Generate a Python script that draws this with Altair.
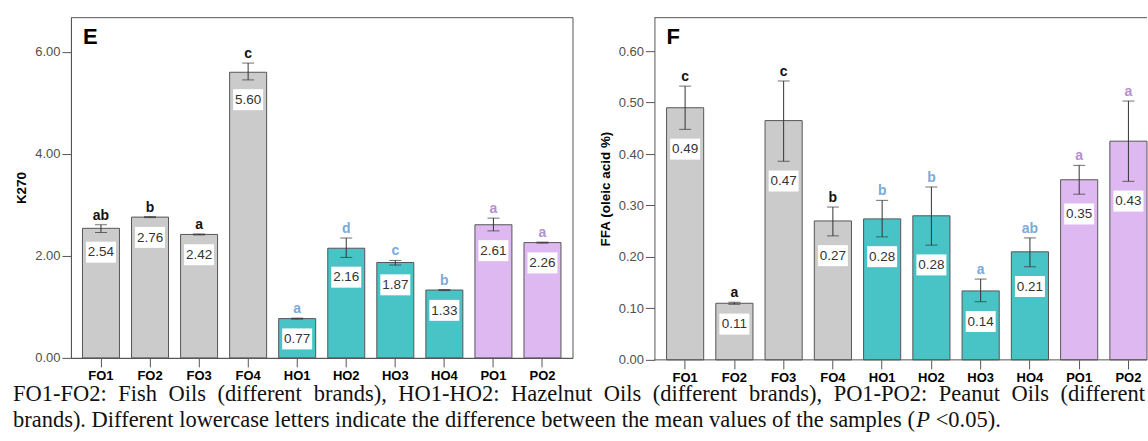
import altair as alt
import pandas as pd

samples = ["FO1", "FO2", "FO3", "FO4", "HO1", "HO2", "HO3", "HO4", "PO1", "PO2"]
groups = ["Fish", "Fish", "Fish", "Fish", "Hazelnut", "Hazelnut", "Hazelnut", "Hazelnut", "Peanut", "Peanut"]

k270_mean = [2.54, 2.76, 2.42, 5.60, 0.77, 2.15, 1.87, 1.33, 2.61, 2.26]
k270_low = [2.46, 2.75, 2.41, 5.45, 0.76, 1.97, 1.82, 1.32, 2.49, 2.25]
k270_high = [2.61, 2.77, 2.43, 5.78, 0.78, 2.35, 1.91, 1.34, 2.74, 2.27]
k270_letters = ["ab", "b", "a", "c", "a", "d", "c", "b", "a", "a"]
k270_labels = ["2.54", "2.76", "2.42", "5.60", "0.77", "2.16", "1.87", "1.33", "2.61", "2.26"]

ffa_mean = [0.49, 0.11, 0.465, 0.27, 0.274, 0.28, 0.134, 0.21, 0.35, 0.425]
ffa_low = [0.448, 0.108, 0.386, 0.241, 0.239, 0.223, 0.113, 0.181, 0.322, 0.347]
ffa_high = [0.532, 0.112, 0.542, 0.297, 0.310, 0.336, 0.157, 0.237, 0.378, 0.503]
ffa_letters = ["c", "a", "c", "b", "b", "b", "a", "ab", "a", "a"]
ffa_labels = ["0.49", "0.11", "0.47", "0.27", "0.28", "0.28", "0.14", "0.21", "0.35", "0.43"]

k270_ticks = [0, 2, 4, 6]
ffa_ticks = [0, 0.1, 0.2, 0.3, 0.4, 0.5, 0.6]

caption_line1 = ("FO1-FO2: Fish Oils (different brands), HO1-HO2: Hazelnut Oils "
                 "(different brands), PO1-PO2: Peanut Oils (different")
caption_line2_head = ("brands). Different lowercase letters indicate the difference "
                      "between the mean values of the samples (")
caption_line2_italic = "P"
caption_line2_tail = "<0.05)."

group_domain = ["Fish", "Hazelnut", "Peanut"]
bar_colors = ["#CBCBCB", "#48C3C6", "#DEB9F1"]
letter_colors = ["#111111", "#7AAADC", "#B58FD0"]

AX = "#555555"
SANS = "Liberation Sans"
SERIF = "Liberation Serif"
BOX = "M-1,0.62L1,0.62L1,2.02L-1,2.02Z"
CAP_SIZE = 22.5
CAP_X0 = -58          # caption left edge, relative to panel E's plot origin
CAP_Y = [384, 410]    # caption baselines, relative to panel E's plot origin
JUSTIFY_EXTRA = 5.9   # extra px per word gap in the justified first line

# Times / Liberation Serif advance widths (1/1000 em) for laying out caption words
TIMES = {" ": 250, "(": 333, ")": 333, ",": 250, ".": 250, ":": 278, "-": 333, "<": 564,
         "0": 500, "1": 500, "2": 500, "5": 500, "D": 722, "F": 556, "H": 722, "O": 722,
         "P": 556, "a": 444, "b": 500, "c": 444, "d": 500, "e": 444, "f": 333, "h": 500,
         "i": 278, "l": 278, "m": 778, "n": 500, "o": 500, "p": 500, "r": 333, "s": 389,
         "t": 278, "u": 500, "v": 500, "w": 722, "z": 444}


def text_width(s, size):
    return sum(TIMES.get(ch, 500) for ch in s) * size / 1000.0


def panel(mean, low, high, letters, labels, ytitle, ydomain, yticks, width, height,
          outer, align, letter, frame):
    df = pd.DataFrame({"sample": samples, "group": groups, "mean": mean, "low": low,
                       "high": high, "letter": letters, "label": labels})
    sc = alt.Scale(domain=samples, paddingInner=0.246, paddingOuter=outer, align=align)
    xaxis = alt.Axis(title=None, labelAngle=0, labelFont=SANS, labelFontSize=13,
                     labelFontWeight="bold", labelColor="black", tickColor=AX,
                     tickSize=9, labelPadding=3, domain=frame, domainColor=AX)
    x = alt.X("sample:N", sort=samples, scale=sc, axis=xaxis)
    yscale = alt.Scale(domain=ydomain, nice=False, zero=True)
    yaxis = alt.Axis(values=yticks, format=".2f", title=ytitle, grid=False,
                     titleFont=SANS, titleFontSize=13.5, titleFontWeight="bold",
                     titleColor="black", titlePadding=6, labelFont=SANS, labelFontSize=13,
                     labelColor="#505050", labelPadding=2, tickSize=9, tickColor=AX,
                     domainColor=AX)
    base = alt.Chart(df)
    bars = base.mark_bar(stroke="#555555", strokeWidth=1).encode(
        x=x,
        y=alt.Y("mean:Q", scale=yscale, axis=yaxis),
        fill=alt.Fill("group:N", scale=alt.Scale(domain=group_domain, range=bar_colors), legend=None),
    )
    err = base.mark_rule(color="#333333", strokeWidth=1).encode(x=x, y="low:Q", y2="high:Q")
    cap_lo = base.mark_tick(color="#333333", thickness=1, size=12).encode(x=x, y="low:Q")
    cap_hi = base.mark_tick(color="#333333", thickness=1, size=12).encode(x=x, y="high:Q")
    box = base.mark_point(shape=BOX, size=900, filled=True, fill="white", opacity=1,
                          strokeWidth=0).encode(x=x, y="low:Q")
    lab = base.mark_text(dy=20, baseline="middle", font=SANS, fontSize=13.5,
                         color="#333333").encode(x=x, y="low:Q", text="label:N")
    let = base.mark_text(dy=-5, baseline="alphabetic", font=SANS, fontSize=14,
                         fontWeight="bold").encode(
        x=x, y="high:Q", text="letter:N",
        color=alt.Color("group:N", scale=alt.Scale(domain=group_domain, range=letter_colors), legend=None))
    tag = alt.Chart(pd.DataFrame({"t": [letter]})).mark_text(
        align="left", baseline="alphabetic", font=SANS, fontSize=22, fontWeight="bold",
        color="black").encode(x=alt.value(12), y=alt.value(27), text="t:N")
    layers = [bars, err, cap_lo, cap_hi, box, lab, let, tag]
    if not frame:
        top = alt.Chart(pd.DataFrame({"a": [0]})).mark_rule(color=AX).encode(
            x=alt.value(0), x2=alt.value(width), y=alt.value(0.5))
        bot = alt.Chart(pd.DataFrame({"a": [0]})).mark_rule(color=AX).encode(
            x=alt.value(0), x2=alt.value(width), y=alt.value(height))
        layers += [top, bot]
    view = alt.ViewBackground(stroke=AX if frame else "transparent", strokeWidth=1)
    return alt.layer(*layers).properties(width=width, height=height, view=view)


E = panel(k270_mean, k270_low, k270_high, k270_letters, k270_labels, "K270",
          [0, 6.68], k270_ticks, 502, 341, 0.235, 0.5, "E", True)

# caption: first line justified word by word, second line natural with italic P
rows = []
xpos = CAP_X0
space = text_width(" ", CAP_SIZE) + JUSTIFY_EXTRA
for w in caption_line1.split(" "):
    rows.append({"text": w, "px": xpos, "py": CAP_Y[0], "style": "normal"})
    xpos += text_width(w, CAP_SIZE) + space
xpos = CAP_X0
rows.append({"text": caption_line2_head, "px": xpos, "py": CAP_Y[1], "style": "normal"})
xpos += text_width(caption_line2_head, CAP_SIZE)
rows.append({"text": caption_line2_italic, "px": xpos, "py": CAP_Y[1], "style": "italic"})
xpos += CAP_SIZE * 0.611 + text_width(" ", CAP_SIZE)
rows.append({"text": caption_line2_tail, "px": xpos, "py": CAP_Y[1], "style": "normal"})
cap_df = pd.DataFrame(rows)

cap_enc = dict(x=alt.X("px:Q", scale=None, axis=None), y=alt.Y("py:Q", scale=None, axis=None),
               text="text:N")
cap_n = alt.Chart(cap_df).transform_filter(alt.datum.style == "normal").mark_text(
    align="left", baseline="alphabetic", font=SERIF, fontSize=CAP_SIZE, color="#111111"
).encode(**cap_enc)
cap_i = alt.Chart(cap_df).transform_filter(alt.datum.style == "italic").mark_text(
    align="left", baseline="alphabetic", font=SERIF, fontSize=CAP_SIZE, fontStyle="italic",
    color="#111111").encode(**cap_enc)
E = alt.layer(E, cap_n, cap_i)

F = panel(ffa_mean, ffa_low, ffa_high, ffa_letters, ffa_labels, "FFA (oleic acid %)",
          [0, 0.666], ffa_ticks, 493, 343, 0.123, 1, "F", False)

chart = alt.hconcat(E, F, spacing=82, bounds="flush").resolve_scale(
    x="independent", y="independent", fill="independent", color="independent"
).properties(padding={"left": 12, "top": 16, "right": 0, "bottom": 0})

chart.save("out.html", embed_options={"renderer": "svg", "actions": False})
